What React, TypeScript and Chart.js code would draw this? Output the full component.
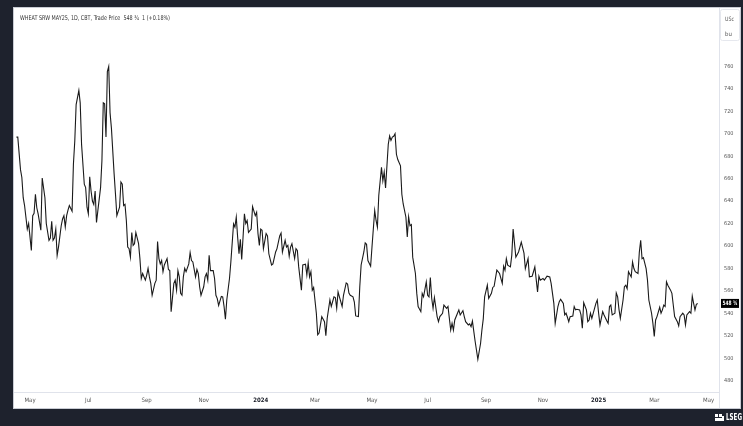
import React, { useEffect, useRef } from "react";
import { Chart, registerables } from "chart.js";

Chart.register(...registerables);

// Trading-day index (0 = first session of May 2023)
const tradingDays = [
  -10, -9, -7, -6, -5, -4, -2, -1, 1, 2, 3, 4, 5, 6, 8, 9, 11, 12, 14, 15, 16, 17, 18, 19, 20, 21, 23, 24, 25, 26,
  27, 28, 29, 31, 32, 33, 34, 36, 37, 38, 40, 41, 42, 43, 44, 45, 46, 47, 48, 49, 50, 52, 53, 54, 55, 56, 57, 58, 59, 60,
  62, 63, 64, 66, 67, 68, 69, 70, 71, 72, 73, 74, 75, 76, 77, 78, 80, 81, 82, 83, 85, 86, 87, 88, 89, 90, 92, 93, 94, 95,
  96, 97, 98, 99, 101, 102, 103, 104, 106, 107, 108, 109, 110, 111, 112, 113, 114, 115, 117, 118, 119, 120, 122, 123, 124, 125, 126, 128, 129, 130,
  131, 132, 133, 135, 136, 137, 138, 139, 141, 142, 143, 144, 145, 147, 148, 150, 151, 152, 153, 154, 155, 156, 157, 158, 159, 160, 161, 163, 164, 166,
  167, 168, 169, 170, 171, 172, 174, 175, 176, 178, 179, 181, 182, 184, 185, 186, 188, 189, 190, 191, 192, 193, 195, 196, 197, 198, 200, 201, 203, 204,
  205, 206, 207, 208, 209, 211, 212, 213, 215, 217, 218, 219, 221, 222, 224, 225, 226, 227, 228, 230, 231, 233, 234, 235, 236, 238, 239, 240, 242, 243,
  244, 246, 247, 248, 249, 251, 252, 254, 255, 256, 257, 259, 260, 261, 262, 264, 265, 266, 267, 268, 269, 270, 271, 273, 274, 275, 277, 278, 279, 280,
  281, 282, 284, 285, 286, 288, 289, 290, 292, 293, 294, 295, 296, 297, 298, 300, 301, 302, 304, 305, 307, 308, 309, 310, 311, 312, 313, 315, 316, 317,
  319, 320, 321, 323, 324, 325, 326, 328, 329, 330, 332, 333, 334, 335, 337, 338, 340, 341, 342, 344, 346, 348, 349, 350, 351, 352, 354, 355, 356, 358,
  360, 361, 362, 364, 365, 367, 368, 370, 371, 372, 374, 375, 376, 378, 379, 381, 383, 384, 386, 387, 389, 390, 391, 393, 394, 395, 396, 397, 398, 400,
  401, 402, 403, 405, 406, 407, 408, 410, 411, 412, 413, 414, 416, 417, 418, 419, 420, 422, 423, 425, 426, 427, 428, 429, 431, 432, 433, 434, 435, 437,
  438, 439, 440, 441, 443, 444, 445, 446, 448, 449, 450, 451, 452, 454, 455, 456, 458, 459, 460, 461, 462, 464, 465, 466, 467, 468, 469, 470, 472, 473,
  474, 475, 477, 478, 479, 481, 482, 483, 484, 486, 487, 488, 489, 490, 491, 492,
];

// Trade price, US cents per bushel
const prices = [
  697, 697, 668, 661, 643, 636, 615, 620, 596, 627, 629, 646, 634, 628.6, 614, 660.5, 643, 620, 605, 607, 622, 605, 607, 615, 591.6, 599, 618, 624, 627, 617,
  627, 632, 636, 631, 673, 693.5, 726, 738.5, 727.5, 690.5, 655, 652, 634.5, 628.6, 661.6, 649, 640, 637, 649, 621, 631.5, 652, 676, 727.5, 726.6, 697, 755.5, 760, 718.6, 705,
  664, 646, 627, 634.5, 657, 655, 636, 637, 622.7, 599, 597.6, 590, 612, 600.5, 602, 612, 602, 588.7, 571, 575.4, 569.5, 574, 580, 572.4, 566.6, 556, 566.6, 569.5, 604, 588.7,
  584, 587, 577, 583, 588.7, 579, 578, 541.4, 566.6, 569.5, 560.6, 578, 572.4, 557.7, 556, 572.4, 580, 577, 584, 594, 587, 585.7, 572.4, 579, 575.4, 563.6, 556, 563.6, 572.4, 575.4,
  569.5, 591.6, 578, 578, 571, 556, 553, 547, 555, 554.6, 546, 534.7, 551.8, 571, 585.7, 619.7, 616.7, 625.6, 608, 593, 606, 588, 608, 628.6, 620, 622.7, 612, 615, 635, 627,
  630, 611, 600.5, 615, 614, 597.6, 611, 609, 593, 583, 584, 594.6, 597.6, 609, 611.4, 594.6, 605, 599, 600.5, 590.8, 599, 602, 588.7, 597.6, 596, 581.3, 560.6, 583, 583.7, 574,
  585, 572.4, 577, 560.6, 563, 540, 520.8, 522.3, 537, 532.5, 520, 535.5, 551.8, 546, 554.6, 554, 544.4, 559, 554.6, 546, 556, 567, 566, 558, 556, 554.6, 550, 537.6, 537, 563.6,
  583, 594.6, 602.6, 601.4, 587, 582, 599, 631.5, 622.7, 616.7, 645, 670, 658, 666, 651.6, 690.6, 698, 694, 697, 697.7, 700, 681.7, 677, 671.4, 646, 637.4, 625.6, 608, 626, 618,
  619, 590, 575.4, 557.7, 546, 541.4, 557.7, 554.6, 568, 556, 554.6, 571.8, 553.3, 544.4, 554, 537, 532.5, 537, 540, 547.3, 544.4, 546, 535.5, 525, 531, 525, 534, 540, 543, 538.5,
  542.3, 537, 532.5, 529.6, 530.5, 528, 533, 515, 507, 499, 513, 525, 535, 554.6, 565, 553.3, 557.7, 563, 564, 578.4, 575.4, 566.6, 582, 578.4, 588.7, 582.8, 581.3, 591.6, 615, 590,
  594.6, 599, 603.4, 593.6, 579.8, 588.7, 572.4, 573, 577, 581.3, 559, 573, 569.5, 571, 569.5, 573, 572.4, 566.6, 548.8, 531, 546, 550.3, 552.4, 548.8, 538.5, 540, 536.4, 532.5, 537, 537.6,
  546, 543, 543.5, 543, 538.5, 526.7, 549.4, 543, 532.5, 534, 540, 535.5, 544.4, 548.8, 551.8, 540, 529.6, 541.4, 538.5, 533.4, 531, 546, 547.3, 538.5, 540, 558, 554.6, 543.5, 535.5, 551.8,
  563.6, 565, 562, 577, 572.4, 585.7, 579.8, 577, 575.4, 594.6, 605, 588.7, 589.6, 579.8, 569.5, 551.8, 540, 531, 519.3, 534, 537, 545.3, 540, 543, 547.3, 546, 568, 565, 560.6, 557.7,
  547.3, 537, 532.5, 528.7, 537, 540, 538.5, 529.6, 538.5, 541.4, 540, 555.3, 548.8, 543, 548, 548.75,
];

const monthTickDays = [0, 43, 86, 128, 170, 210, 252, 293, 336, 378, 419, 460, 500];
const monthTickLabels = ["May", "Jul", "Sep", "Nov", "2024", "Mar", "May", "Jul", "Sep", "Nov", "2025", "Mar", "May"];
const priceTicks = [480, 500, 520, 540, 560, 580, 600, 620, 640, 660, 680, 700, 720, 740, 760];
const lastPrice = 548.75;
const lastPriceLabel = "548 ¾";
const titleText = "WHEAT SRW MAY25, 1D, CBT, Trade Price  548 ¾  1 (+0.18%)";
const unitLabels = ["USc", "bu"];
const brandLabel = "LSEG";

const W = 743;
const H = 426;
const FONT = "'Liberation Sans Narrow', 'DejaVu Sans Condensed', 'Roboto Condensed', Roboto, sans-serif";

// draw text squeezed horizontally so it fits a given width
function squeezedText(c: CanvasRenderingContext2D, text: string, x: number, y: number, width: number) {
  const w = c.measureText(text).width;
  const k = Math.min(1, width / w);
  c.save();
  c.translate(x, y);
  c.scale(k, 1);
  c.fillText(text, 0, 0);
  c.restore();
}

export default function App() {
  const ref = useRef<HTMLCanvasElement | null>(null);

  useEffect(() => {
    const canvas = ref.current;
    if (!canvas) return;

    const framePlugin = {
      id: "frame",
      beforeDraw(chart: any) {
        const c = chart.ctx;
        c.save();
        c.fillStyle = "#1e222d";
        c.fillRect(0, 0, W, H);
        c.fillStyle = "#ffffff";
        c.fillRect(13, 7, 728, 402);
        c.strokeStyle = "#c9ccd4";
        c.lineWidth = 1;
        c.strokeRect(13.5, 7.5, 727, 401);
        c.restore();
      },
      afterDraw(chart: any) {
        const c = chart.ctx;
        const area = chart.chartArea;
        const yScale = chart.scales.y;
        c.save();
        // separators
        c.strokeStyle = "#e0e3eb";
        c.lineWidth = 1;
        c.beginPath();
        c.moveTo(area.right + 0.5, 8);
        c.lineTo(area.right + 0.5, 408);
        c.moveTo(14, area.bottom + 0.5);
        c.lineTo(area.right, area.bottom + 0.5);
        c.stroke();
        // title
        c.fillStyle = "#333";
        c.font = `6.5px ${FONT}`;
        c.textBaseline = "middle";
        c.textAlign = "left";
        squeezedText(c, titleText, 20, 18, 150);
        // unit box
        c.strokeStyle = "#e6e8ee";
        c.beginPath();
        c.roundRect(720.5, 9.5, 19, 31, 2);
        c.stroke();
        c.fillStyle = "#555";
        c.font = `6px ${FONT}`;
        squeezedText(c, unitLabels[0], 725, 19, 9);
        squeezedText(c, unitLabels[1], 725, 34, 7);
        // last price label
        const py = yScale.getPixelForValue(lastPrice);
        c.fillStyle = "#000";
        c.fillRect(721, py - 4.5, 18, 9);
        c.fillStyle = "#fff";
        c.font = `bold 6px ${FONT}`;
        squeezedText(c, lastPriceLabel, 722.5, py, 15);
        // brand
        c.fillStyle = "#fff";
        c.font = `bold 8px ${FONT}`;
        squeezedText(c, brandLabel, 726, 418, 16);
        c.fillRect(715, 414, 3, 3);
        c.fillRect(719, 414, 3, 3);
        c.fillRect(715, 418, 7, 3);
        c.fillRect(722, 416, 2, 5);
        c.restore();
      },
    };

    const chart = new Chart(canvas, {
      type: "line",
      data: {
        datasets: [
          {
            data: tradingDays.map((d, i) => ({ x: d, y: prices[i] })),
            borderColor: "#1a1a1a",
            borderWidth: 1.1,
            pointRadius: 0,
            tension: 0,
            fill: false,
          },
        ],
      },
      options: {
        animation: false,
        responsive: false,
        devicePixelRatio: 1,
        layout: { padding: { left: 15, top: 7, right: 0, bottom: 0 } },
        plugins: { legend: { display: false }, tooltip: { enabled: false } },
        scales: {
          x: {
            type: "linear",
            min: -11.05,
            max: 507.7,
            grid: { display: false, drawTicks: false },
            border: { display: false },
            afterBuildTicks: (s: any) => {
              s.ticks = monthTickDays.map((v) => ({ value: v }));
            },
            afterFit: (s: any) => {
              s.height = 34;
            },
            ticks: {
              autoSkip: false,
              maxRotation: 0,
              padding: 5,
              color: (ctx: any) => (/^\d{4}$/.test(monthTickLabels[ctx.index] || "") ? "#131722" : "#555"),
              font: (ctx: any) => ({
                size: 6,
                family: FONT,
                weight: /^\d{4}$/.test(monthTickLabels[ctx.index] || "") ? "bold" : "normal",
              }),
              callback: (_v: any, i: number) => monthTickLabels[i],
            },
          },
          y: {
            position: "right",
            min: 469.8,
            max: 811.8,
            grid: { display: false, drawTicks: false },
            border: { display: false },
            afterBuildTicks: (s: any) => {
              s.ticks = priceTicks.map((v) => ({ value: v }));
            },
            afterFit: (s: any) => {
              s.width = 24;
            },
            ticks: {
              padding: 5,
              color: "#555",
              font: { size: 5.5, family: FONT },
              callback: (v: any) => String(v),
            },
          },
        },
      },
      plugins: [framePlugin],
    } as any);

    return () => chart.destroy();
  }, []);

  return (
    <div style={{ position: "fixed", left: 0, top: 0, width: W, height: H, background: "#1e222d" }}>
      <canvas ref={ref} width={W} height={H} style={{ display: "block", width: W, height: H }} />
    </div>
  );
}
